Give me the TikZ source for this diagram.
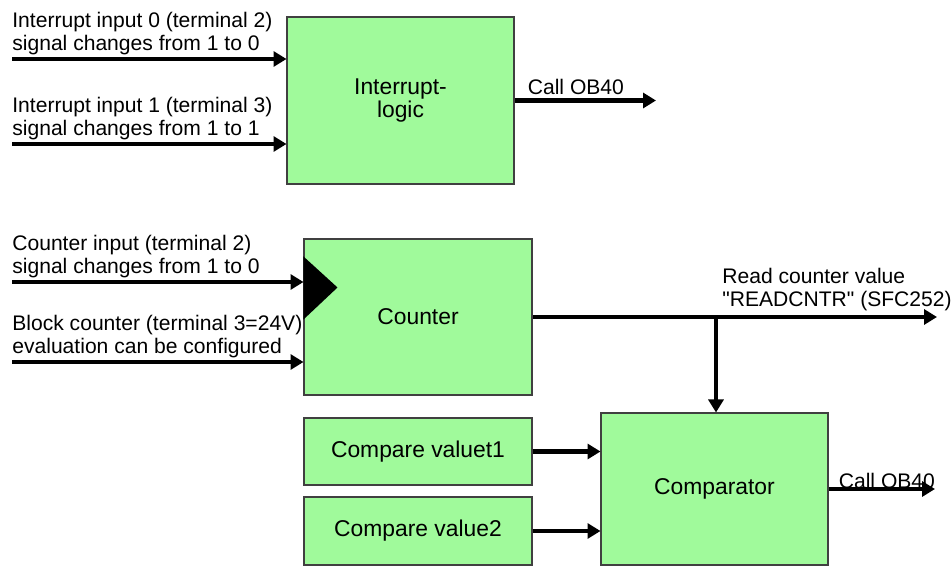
\documentclass[tikz,border=0pt]{standalone}
\usepackage{fontspec}
\setmainfont{Liberation Sans}
\usetikzlibrary{arrows.meta,positioning,calc}
\definecolor{boxgreen}{RGB}{160,250,155}

\begin{document}
\begin{tikzpicture}[x=0.02cm, y=-0.02cm,
    block/.style={draw=black!75, line width=0.6pt, fill=boxgreen, align=center,
                  font=\fontsize{13}{13.5}\selectfont, inner sep=0pt},
    lbl/.style={align=left, inner sep=0pt, font=\fontsize{12}{13}\selectfont},
    sig/.style={line width=2.6pt, -{Triangle[length=0.26cm, width=0.3cm]}}]
  \useasboundingbox (0,0) rectangle (951,571);

  % Interrupt logic
  \node[block, minimum width=4.54cm, minimum height=3.34cm] (intr) at (400.5,100.5)
       {Interrupt-\\logic};
  \coordinate (in0) at (12,59);
  \coordinate (in1) at (12,144);
  \coordinate (ob1) at (656,100.5);
  \draw[sig] (in0) -- (in0 -| intr.west);
  \draw[sig] (in1) -- (in1 -| intr.west);
  \draw[sig] (intr.east) -- (ob1);
  \node[lbl, above right=2pt and 0pt of in0] {Interrupt input 0 (terminal 2)\\signal changes from 1 to 0};
  \node[lbl, above right=2pt and 0pt of in1] {Interrupt input 1 (terminal 3)\\signal changes from 1 to 1};
  \node[lbl, above right=0.1cm and 0.26cm of intr.east] {Call OB40};

  % Counter
  \node[block, minimum width=4.56cm, minimum height=3.12cm] (cntr) at (418,317) {Counter};
  \fill ($(cntr.north west)+(0,18)$) -- ($(cntr.north west)+(34,49)$)
        -- ($(cntr.north west)+(0,81)$) -- cycle;
  \coordinate (cin) at (12,282);
  \coordinate (blk) at (12,362);
  \coordinate (rd) at (937,317);
  \coordinate (br) at (716,317);
  \draw[sig] (cin) -- (cin -| cntr.west);
  \draw[sig] (blk) -- (blk -| cntr.west);
  \draw[sig] (cntr.east) -- (rd);
  \node[lbl, above right=2pt and 0pt of cin] {Counter input (terminal 2)\\signal changes from 1 to 0};
  \node[lbl, above right=2pt and 0pt of blk] {Block counter (terminal 3=24V)\\evaluation can be configured};
  \node[lbl, above right=0.12cm and 0.12cm of br]
       {Read counter value\\\textquotedbl READCNTR\textquotedbl{} (SFC252)};

  % Compare values and comparator
  \node[block, minimum width=4.56cm, minimum height=1.34cm] (cmp1) at (418,451.5) {Compare valuet1};
  \node[block, minimum width=4.56cm, minimum height=1.36cm] (cmp2) at (418,531) {Compare value2};
  \node[block, minimum width=4.54cm, minimum height=3.04cm] (comp) at (714.5,489) {Comparator};
  \coordinate (ob2) at (935,489);
  \draw[sig] (br) -- (br |- comp.north);
  \draw[sig] (cmp1.east) -- (cmp1.east -| comp.west);
  \draw[sig] (cmp2.east) -- (cmp2.east -| comp.west);
  \draw[sig] (comp.east) -- (ob2);
  \node[lbl, above right=0pt and 0.2cm of comp.east] {Call OB40};
\end{tikzpicture}
\end{document}
